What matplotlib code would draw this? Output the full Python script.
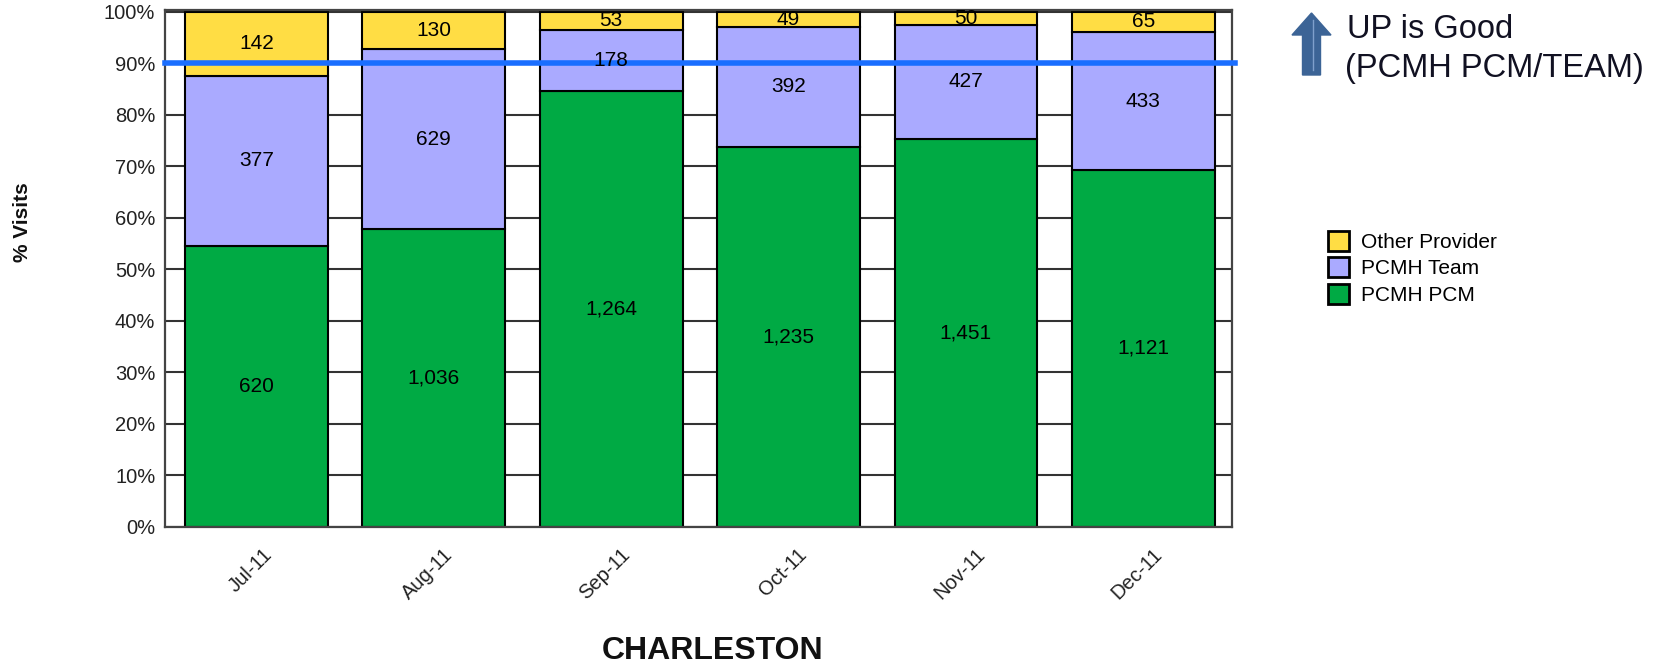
import matplotlib
matplotlib.use("Agg")
import matplotlib.pyplot as plt
import numpy as np
from matplotlib.patches import FancyArrow
from matplotlib.transforms import IdentityTransform, ScaledTranslation
from matplotlib.lines import Line2D

plt.rcParams['font.family'] = ['Liberation Sans', 'DejaVu Sans']

months = ["Jul-11", "Aug-11", "Sep-11", "Oct-11", "Nov-11", "Dec-11"]
pcmh_pcm = [620, 1036, 1264, 1235, 1451, 1121]
pcmh_team = [377, 629, 178, 392, 427, 433]
other_provider = [142, 130, 53, 49, 50, 65]
goal = 0.90

series_names = ["PCMH PCM", "PCMH Team", "Other Provider"]
series_colors = ["#00AA44", "#AAAAFF", "#FFDD44"]

W, H = 1661, 666
fig = plt.figure(figsize=(W / 100, H / 100), dpi=100)
ax = fig.add_axes([165 / W, 1 - 526.5 / H, (1232 - 165) / W, (526.5 - 10) / H])

data = np.array([pcmh_pcm, pcmh_team, other_provider], dtype=float)
totals = data.sum(axis=0)
frac = data / totals
x = np.arange(len(months))

bottom = np.zeros(len(months))
handles = []
for i in range(3):
    bars = ax.bar(x, frac[i], 0.805, bottom=bottom, color=series_colors[i],
                  edgecolor="black", linewidth=1.5, zorder=2, label=series_names[i])
    handles.append(bars)
    for j in range(len(months)):
        ax.text(x[j], bottom[j] + frac[i][j] / 2, f"{int(data[i][j]):,}",
                ha="center", va="center", fontsize=15, color="black", zorder=6)
    bottom += frac[i]

ax.axhline(goal, color="#1A6EFF", lw=4, zorder=4, clip_on=False, xmax=1.003)

ax.set_xlim(-0.515, 5.5)
ax.set_ylim(0, 1.003)
ax.set_yticks(np.arange(0, 1.01, 0.1))
ax.set_yticklabels([f"{int(round(v * 100))}%" for v in np.arange(0, 1.01, 0.1)])
ax.yaxis.grid(True, color="#333333", lw=1.5, zorder=0)
ax.set_axisbelow(True)
ax.tick_params(axis="y", length=0, pad=7, labelsize=14.5, labelcolor="#222222")
ax.set_xticks(x)
ax.set_xticklabels(months, rotation=45, ha="center")
ax.tick_params(axis="x", length=0, pad=13, labelsize=14.5, labelcolor="#222222")
for lbl in ax.get_xticklabels():
    lbl.set_transform(lbl.get_transform() + ScaledTranslation(-6 / 100, 0, fig.dpi_scale_trans))
for s in ax.spines.values():
    s.set_color("#444444")
    s.set_linewidth(1.6)

fig.text(23 / W, 1 - 222 / H, "% Visits", rotation=90, ha="center", va="center",
         fontsize=15, fontweight="bold", color="#111111")
fig.text(713 / W, 1 - 651 / H, "CHARLESTON", ha="center", va="center",
         fontsize=23, fontweight="bold", color="#111111")

leg = fig.legend(handles[::-1], series_names[::-1], loc="upper left",
                 bbox_to_anchor=(1328 / W, 1 - 231 / H), frameon=False,
                 fontsize=15, handlelength=1.0, handleheight=1.1,
                 handletextpad=0.6, labelspacing=0.25, borderpad=0, borderaxespad=0)
for p in leg.get_patches():
    p.set_linewidth(2)

arrow = FancyArrow(1311.5, H - 75, 0, 62, width=18, head_width=39, head_length=22,
                   length_includes_head=True, color="#3C6496", transform=IdentityTransform())
fig.add_artist(arrow)
fig.add_artist(Line2D([1313, 1313], [H - 70, H - 20], color="#7FA0CC", lw=1,
                      transform=IdentityTransform()))
fig.text(1347 / W, 1 - 29 / H, "UP is Good", ha="left", va="center",
         fontsize=23.5, color="#111122")
fig.text(1345 / W, 1 - 68 / H, "(PCMH PCM/TEAM)", ha="left", va="center",
         fontsize=23.5, color="#111122")

fig.savefig("out.png", dpi=100)
